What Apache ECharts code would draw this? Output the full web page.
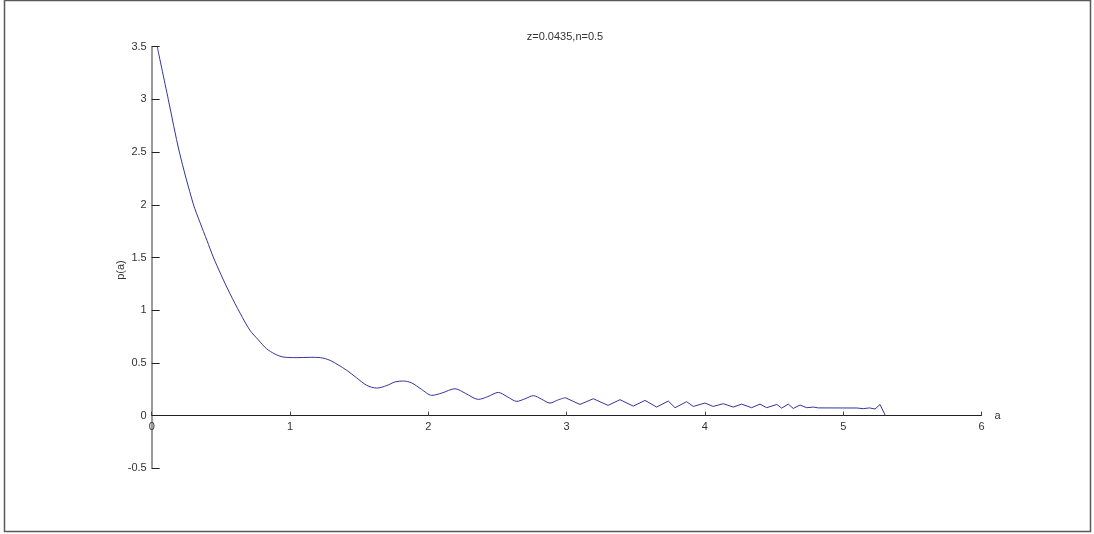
<!DOCTYPE html>
<html>
<head>
<meta charset="utf-8">
<script src="https://cdn.jsdelivr.net/npm/echarts@6/dist/echarts.min.js"></script>
<style>
  html, body { margin: 0; padding: 0; background: #fff; }
  #chart { width: 1094px; height: 534px; }
</style>
</head>
<body>
<div id="chart"></div>
<script>
// Density p(a) sampled along a
const aValues = [
  0.04, 0.12, 0.20, 0.30, 0.35, 0.40, 0.445, 0.50, 0.566, 0.64, 0.71, 0.77, 0.83, 0.89, 0.95,
  1.05, 1.15, 1.22, 1.29, 1.35, 1.41, 1.48, 1.555, 1.627, 1.70, 1.76, 1.82, 1.88, 1.95,
  2.025, 2.10, 2.193, 2.27, 2.362, 2.43, 2.506, 2.57, 2.64, 2.70, 2.76, 2.82, 2.88, 2.94, 2.99,
  3.04, 3.097, 3.193, 3.30, 3.386, 3.482, 3.567, 3.651, 3.735, 3.784, 3.868, 3.916,
  4.00, 4.06, 4.133, 4.205, 4.266, 4.338, 4.398, 4.447, 4.52, 4.555, 4.603, 4.639, 4.688,
  4.736, 4.784, 4.82, 5.10, 5.145, 5.19, 5.23, 5.266, 5.305
];
const pValues = [
  3.50, 3.00, 2.50, 2.01, 1.83, 1.66, 1.505, 1.34, 1.157, 0.97, 0.81, 0.72, 0.635, 0.585, 0.556,
  0.550, 0.553, 0.550, 0.524, 0.48, 0.43, 0.36, 0.287, 0.261, 0.285, 0.320, 0.328, 0.310, 0.250,
  0.192, 0.215, 0.255, 0.210, 0.154, 0.180, 0.220, 0.180, 0.135, 0.160, 0.189, 0.155, 0.119, 0.150, 0.170,
  0.140, 0.106, 0.160, 0.097, 0.151, 0.090, 0.144, 0.081, 0.138, 0.075, 0.132, 0.087,
  0.119, 0.087, 0.113, 0.081, 0.109, 0.075, 0.109, 0.075, 0.106, 0.071, 0.109, 0.068, 0.100,
  0.075, 0.081, 0.073, 0.072, 0.066, 0.073, 0.062, 0.105, 0.0
];
const xTicks = { min: 0, max: 6, step: 1 };
const yTicks = { min: -0.5, max: 3.5, step: 0.5 };
const titleText = 'z=0.0435,n=0.5';
const xName = 'a';
const yName = 'p(a)';

// the low-a part of the curve is smooth; past a≈3 it is a sharp zigzag
const smoothUntil = 2.99;
const points = aValues.map((a, i) => [a, pValues[i]]);
const smoothPart = points.filter(p => p[0] <= smoothUntil);
const sharpPart = points.filter(p => p[0] >= smoothUntil);

const FONT = 'Liberation Sans, Arial, sans-serif';
const GRID = { left: 151.7, right: 112.5, top: 46.7, bottom: 65.7 };
const plotH = 534 - GRID.top - GRID.bottom;
// lift the x axis from the grid bottom up to p = 0
const zeroLift = plotH * (0 - yTicks.min) / (yTicks.max - yTicks.min);

const lineStyle = { color: '#34349c', width: 1 };

const chart = echarts.init(document.getElementById('chart'), null, { renderer: 'canvas' });
chart.setOption({
  backgroundColor: '#ffffff',
  animation: false,
  grid: Object.assign({ containLabel: false }, GRID),
  xAxis: {
    type: 'value',
    position: 'bottom',
    offset: -zeroLift,
    min: xTicks.min, max: xTicks.max, interval: xTicks.step,
    name: xName,
    nameLocation: 'end',
    nameGap: 13,
    nameTextStyle: { fontFamily: FONT, fontSize: 11, color: '#333', padding: [0, 0, 3, 0] },
    axisLine: { onZero: false, lineStyle: { color: '#222', width: 1 } },
    axisTick: { show: true, inside: true, length: 4, lineStyle: { color: '#444' } },
    axisLabel: { fontFamily: FONT, fontSize: 11, color: '#333', margin: 6 },
    splitLine: { show: false }
  },
  yAxis: {
    type: 'value',
    min: yTicks.min, max: yTicks.max, interval: yTicks.step,
    axisLine: { show: true, onZero: false, lineStyle: { color: '#7a7a7a', width: 1.5 } },
    axisTick: { show: true, inside: true, length: 8, lineStyle: { color: '#222' } },
    axisLabel: { fontFamily: FONT, fontSize: 11, color: '#333', margin: 5 },
    splitLine: { show: false }
  },
  graphic: [
    {
      type: 'rect', silent: true, z: 0,
      shape: { x: 4.5, y: 0.5, width: 1086, height: 531 },
      style: { fill: 'none', stroke: '#5a5a5a', lineWidth: 1.5 }
    },
    {
      type: 'text', silent: true,
      x: 565, y: 37,
      style: { text: titleText, font: '11px ' + FONT, fill: '#333', align: 'center', verticalAlign: 'middle' }
    },
    {
      type: 'text', silent: true,
      x: 121, y: 270, rotation: Math.PI / 2,
      style: { text: yName, font: '11px ' + FONT, fill: '#333', align: 'center', verticalAlign: 'middle' }
    }
  ],
  series: [
    {
      type: 'line',
      data: smoothPart,
      symbol: 'none',
      smooth: 0.3,
      lineStyle: lineStyle
    },
    {
      type: 'line',
      data: sharpPart,
      symbol: 'none',
      smooth: false,
      lineStyle: lineStyle
    }
  ]
});
</script>
</body>
</html>
